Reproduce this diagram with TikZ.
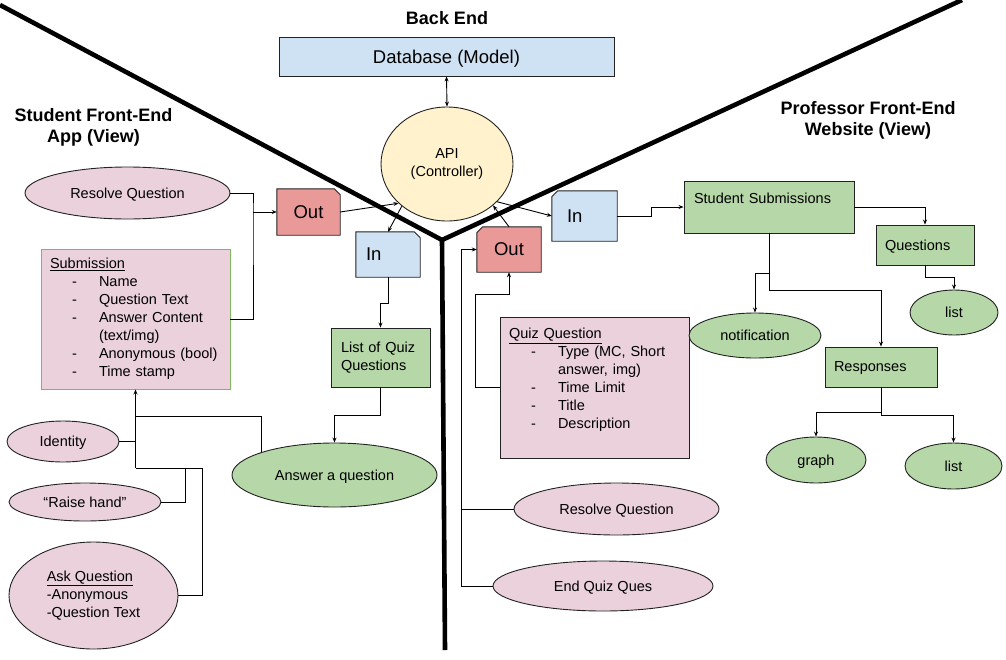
\documentclass[tikz,border=0pt]{standalone}
\usepackage{fontspec}
\setmainfont{Liberation Sans}
\usetikzlibrary{shapes.geometric,arrows.meta,backgrounds}
\definecolor{pinkF}{HTML}{EAD1DC}
\definecolor{redF}{HTML}{EA9999}
\definecolor{blueF}{HTML}{CFE2F3}
\definecolor{greenF}{HTML}{B6D7A8}
\definecolor{yellowF}{HTML}{FFF2CC}
\definecolor{subG}{HTML}{7FB660}
\definecolor{edgeC}{HTML}{222222}
\newcommand\fsN{\fontsize{14.5}{18}\selectfont}
\newcommand\fsB{\fontsize{18.5}{22}\selectfont}
\newcommand\fsT{\fontsize{18}{21}\selectfont\bfseries}
\newcommand\dashitem[1]{\hspace*{22pt}\makebox[27pt][l]{-}#1}
\begin{document}
\begin{tikzpicture}[x=1pt,y=-1pt,
  conn/.style={line width=0.9pt, draw=black},
  arr/.style={conn, -{Stealth[length=5pt,width=4pt]}},
  darr/.style={conn, {Stealth[length=5pt,width=4pt]}-{Stealth[length=5pt,width=4pt]}},
  oneline/.style={text depth=0pt},
  box/.style={rectangle, draw=edgeC, line width=0.9pt, inner sep=0pt, font=\fsN},
  ell/.style={ellipse, draw=edgeC, line width=0.9pt, inner sep=2pt, font=\fsN},
  iotext/.style={rectangle, inner sep=0pt, font=\fsB, oneline},
  iofr/.style={draw=edgeC, line width=0.9pt},
  divider/.style={line width=4.6pt, draw=black},
  title/.style={font=\fsT, align=center}]
\useasboundingbox (0,0) rectangle (1006,659);

% dividing lines
\coordinate (jc) at (442,240);
\coordinate (dl) at (0,5);
\coordinate (dr) at (962,0);
\coordinate (db2) at (445,650);
\draw[divider] (dl) -- (jc) -- (dr);
\draw[divider] (jc) -- (db2);

% titles
\node[title] (tBack) at (447,18) {Back End};
\node[title] (tStud) at (93.5,127) {Student Front-End\\App (View)};
\node[title] (tProf) at (868,120.5) {Professor Front-End\\Website (View)};

% back end
\node[box, oneline, fill=blueF, minimum width=335pt, minimum height=39pt, font=\fsB] (db) at (446.5,56.5) {Database (Model)};
\node[ell, fill=yellowF, minimum width=132pt, minimum height=114pt, align=center] (api) at (447,164) {API\\(Controller)};

% in/out boxes
\node[iotext, minimum width=63pt, minimum height=46pt] (outL) at (308.5,212) {Out};
\node[iotext, minimum width=64pt, minimum height=45pt, text width=44pt, inner xsep=10pt, align=left] (inL) at (388,254.5) {In};
\node[iotext, minimum width=64pt, minimum height=45pt] (outR) at (509,249.5) {Out};
\node[iotext, minimum width=65pt, minimum height=50pt, text width=35pt, inner xsep=15pt, align=left] (inR) at (584.5,216) {In};
\begin{scope}[on background layer]
\filldraw[iofr, fill=redF] (outL.north west) -- ([xshift=-6pt]outL.north east) -- ([yshift=-6pt]outL.north east) -- (outL.south east) -- (outL.south west) -- cycle;
\filldraw[iofr, fill=blueF] (inL.north west) -- ([xshift=-6pt]inL.north east) -- ([yshift=-6pt]inL.north east) -- (inL.south east) -- (inL.south west) -- cycle;
\filldraw[iofr, fill=redF] ([xshift=6pt]outR.north west) -- (outR.north east) -- (outR.south east) -- (outR.south west) -- ([yshift=-6pt]outR.north west) -- cycle;
\filldraw[iofr, fill=blueF] ([xshift=6pt]inR.north west) -- (inR.north east) -- (inR.south east) -- (inR.south west) -- ([yshift=-6pt]inR.north west) -- cycle;
\end{scope}

% student side
\node[ell, oneline, fill=pinkF, minimum width=205pt, minimum height=52pt] (resL) at (127.5,193) {Resolve Question};
\node[box, draw=subG, fill=pinkF, minimum width=189pt, minimum height=140pt, text width=171pt, inner xsep=9pt, align=left] (sub) at (135.5,319)
  {\underline{Submission}\\ \dashitem{Name}\\ \dashitem{Question Text}\\ \dashitem{Answer Content}\\ \hspace*{49pt}(text/img)\\ \dashitem{Anonymous (bool)}\\ \dashitem{Time stamp}};
\node[ell, oneline, fill=pinkF, minimum width=112pt, minimum height=41pt] (ident) at (63,441.5) {Identity};
\node[ell, oneline, fill=pinkF, minimum width=152pt, minimum height=38pt] (raise) at (85,502) {“Raise hand”};
\node[ell, fill=pinkF, minimum width=169pt, minimum height=107pt, align=left] (askq) at (93.5,595.5) {\underline{Ask Question}\\-Anonymous\\-Question Text};
\node[box, fill=greenF, minimum width=99pt, minimum height=59pt, text width=79pt, inner xsep=10pt, align=left] (lqq) at (380.5,357.5) {List of Quiz\\Questions};
\node[ell, oneline, fill=greenF, minimum width=205pt, minimum height=64pt] (answer) at (334.5,475) {Answer a question};

% professor side
\node[box, fill=pinkF, minimum width=189pt, minimum height=141pt, text width=171pt, inner xsep=9pt, align=left] (qq) at (594.5,387.5)
  {\underline{Quiz Question}\\ \dashitem{Type (MC, Short}\\ \hspace*{49pt}answer, img)\\ \dashitem{Time Limit}\\ \dashitem{Title}\\ \dashitem{Description}\\ \mbox{}};
\node[ell, oneline, fill=pinkF, minimum width=205pt, minimum height=52pt] (resR) at (616.5,509) {Resolve Question};
\node[ell, oneline, fill=pinkF, minimum width=220pt, minimum height=50pt] (endq) at (603,586) {End Quiz Ques};
\node[box, fill=greenF, minimum width=170pt, minimum height=52pt, text width=150pt, inner xsep=10pt, align=left] (ss) at (769,207) {Student Submissions\\ \mbox{}};
\node[box, oneline, fill=greenF, minimum width=98pt, minimum height=40pt, text width=80pt, inner xsep=9pt, align=left] (q) at (925,245) {Questions};
\node[ell, oneline, fill=greenF, minimum width=88pt, minimum height=45pt] (list1) at (954,312.5) {list};
\node[ell, oneline, fill=greenF, minimum width=132pt, minimum height=45pt] (notif) at (755,335.5) {notification};
\node[box, oneline, fill=greenF, minimum width=112pt, minimum height=40pt, text width=94pt, inner xsep=9pt, align=left] (resp) at (881,367) {Responses};
\node[ell, oneline, fill=greenF, minimum width=100pt, minimum height=46pt] (graph) at (816,460) {graph};
\node[ell, oneline, fill=greenF, minimum width=97pt, minimum height=46pt] (list2) at (953.5,466) {list};

% back-end connectors
\draw[darr] (db.south) -- (api.north);
\draw[arr] (outL.east) -- (api.219);
\draw[arr] (api.223) -- (inL.north);
\draw[arr] (outR.north) -- (api.318);
\draw[arr] (api.323) -- (inR.west);

% student connectors
\coordinate (jR) at (253,212);
\draw[conn] (resL.east) -| (jR) |- (sub.east);
\draw[arr] (jR) -- (outL.west);
\draw[arr] (inL.south) -- ++(0,26) -| (lqq.north);
\draw[arr] (lqq.south) -- ++(0,28) -| (answer.north);
\coordinate (jL) at (135.5,468);
\coordinate (jA) at (135.5,416);
\coordinate (jAsk) at (202,468);
\coordinate (jRaise) at (185,468);
\draw[arr] (jL) -- (sub.south);
\draw[conn] (answer.north west) |- (jA);
\draw[conn] (ident.east) -- (ident.east -| jL);
\draw[conn] (raise.east) -| (jRaise);
\draw[conn] (askq.east) -| (jAsk) -- (jL);

% professor connectors
\coordinate (jQ) at (475,294);
\draw[arr] (qq.west) -| (jQ) -| (outR.south);
\draw[arr] (endq.west) -- ++(-31,0) |- (outR.west);
\draw[conn] (resR.west) -- ++(-52,0);
\draw[arr] (inR.east) -- ++(34,0) |- (ss.west);
\draw[arr] (ss.east) -| (q.north);
\draw[arr] (q.south) -- ++(0,12) -| (list1.north);
\draw[arr] (ss.south) -- ++(0,40) -| (notif.north);
\draw[arr] (ss.south) -- ++(0,57) -| (resp.north);
\draw[arr] (resp.south) -- ++(0,25) -| (graph.north);
\draw[arr] (resp.south) -- ++(0,28) -| (list2.north);
\end{tikzpicture}
\end{document}
